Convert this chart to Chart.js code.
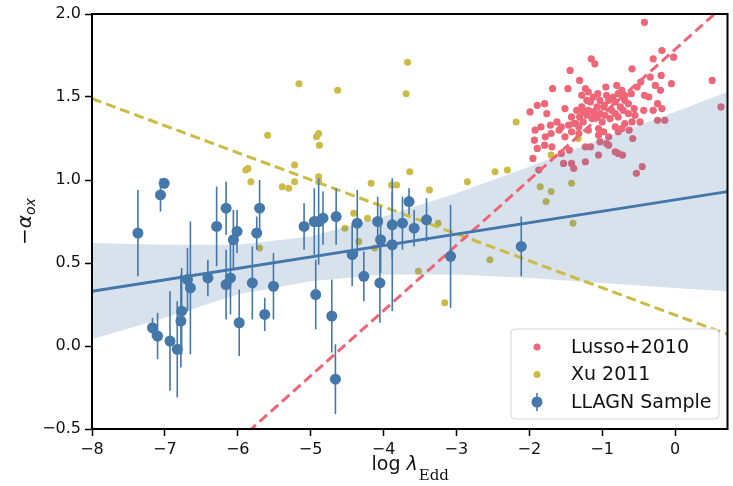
<!DOCTYPE html>
<html>
<head>
<meta charset="utf-8">
<script src="https://cdn.jsdelivr.net/npm/chart.js@4.4.1/dist/chart.umd.min.js"></script>
<style>
  html, body { margin: 0; padding: 0; background: #fff; }
  #wrap { width: 733px; height: 486px; }
</style>
</head>
<body>
<div id="wrap"><canvas id="aoxChart" width="733" height="486"></canvas></div>
<script>
// LLAGN sample: log lambda_Edd, -alpha_ox and 1-sigma errors
const llagnX = [-7.37, -7.01, -7.06, -6.29, -6.16, -6.01, -6.06, -5.70, -5.74, -6.69,
                -6.65, -6.41, -6.16, -6.10, -5.98, -5.80, -6.77, -6.78, -7.17, -7.10,
                -6.93, -6.83, -5.51, -5.63, -5.09, -4.95, -4.89, -4.83, -4.65, -4.93,
                -4.71, -4.66, -4.43, -4.36, -4.27, -4.08, -4.04, -4.05, -3.88, -3.88,
                -3.74, -3.65, -3.58, -3.41, -3.08, -2.11];
const llagnY = [0.68, 0.98, 0.91, 0.72, 0.83, 0.69, 0.64, 0.83, 0.68, 0.40,
                0.35, 0.41, 0.37, 0.41, 0.14, 0.38, 0.21, 0.15, 0.11, 0.06,
                0.03, -0.02, 0.36, 0.19, 0.72, 0.75, 0.75, 0.77, 0.78, 0.31,
                0.18, -0.20, 0.55, 0.74, 0.42, 0.75, 0.64, 0.38, 0.73, 0.61,
                0.74, 0.87, 0.71, 0.76, 0.54, 0.60];
const llagnErr = [0.26, 0.03, 0.10, 0.24, 0.16, 0.13, 0.18, 0.17, 0.10, 0.19,
                  0.40, 0.11, 0.21, 0.22, 0.20, 0.22, 0.26, 0.28, 0.06, 0.14,
                  0.30, 0.29, 0.20, 0.10, 0.14, 0.20, 0.26, 0.16, 0.17, 0.21,
                  0.22, 0.21, 0.19, 0.20, 0.15, 0.15, 0.20, 0.24, 0.20, 0.40,
                  0.16, 0.08, 0.11, 0.13, 0.31, 0.18];

// Xu 2011
const xuX = [-3.67, -3.69, -5.16, -4.63, -5.59, -4.92, -4.89, -4.88, -5.89, -5.86,
             -5.82, -5.22, -5.22, -5.39, -5.30, -4.89, -4.89, -3.64, -4.17, -3.89,
             -3.82, -3.37, -2.85, -3.25, -4.41, -4.22, -4.53, -4.34, -5.70, -4.12,
             -3.52, -3.16, -2.54, -2.47, -2.30, -2.18, -1.85, -1.70, -1.77, -1.42,
             -1.40, -1.70, -1.33];
const xuY = [1.71, 1.52, 1.58, 1.54, 1.27, 1.26, 1.28, 1.21, 1.06, 1.07,
             0.99, 1.09, 0.99, 0.96, 0.95, 1.02, 0.99, 1.05, 0.98, 0.97,
             0.97, 0.94, 0.99, 0.74, 0.80, 0.77, 0.71, 0.63, 0.59, 0.59,
             0.45, 0.26, 0.52, 1.05, 1.06, 1.35, 0.96, 0.93, 0.87, 0.98,
             0.74, 1.15, 1.25];

// Lusso+2010
const lussoX = [-0.42, -1.15, -1.10, -1.44, -0.59, -0.18, -0.02, -0.30, -1.31, -1.68,
                -1.47, -0.95, -1.23, -1.19, -1.06, -0.80, -0.73, -0.60, -0.47, -0.52,
                -0.34, -0.19, -0.05, -0.27, -0.20, -0.42, -0.36, 0.51, 0.63, -1.89,
                -1.79, -1.99, -1.76, -1.51, -1.28, -1.16, -1.07, -0.97, -0.91, -0.82,
                -0.75, -0.69, -0.56, -0.43, -0.30, -0.18, -0.24, -1.12, -1.03, -0.87,
                -1.21, -1.31, -1.42, -1.62, -1.71, -1.84, -1.92, -1.56, -1.46, -1.36,
                -1.26, -1.14, -1.00, -0.89, -0.78, -0.69, -0.59, -0.48, -0.24, -0.14,
                -1.70, -1.78, -1.93, -1.59, -1.51, -1.42, -1.32, -1.19, -1.05, -0.91,
                -0.78, -0.63, -0.58, -1.89, -1.79, -1.69, -1.95, -1.56, -1.45, -1.23,
                -1.16, -1.03, -0.94, -0.91, -0.82, -0.78, -0.72, -1.05, -1.23, -1.53,
                -1.42, -1.39, -0.53, -0.45, -1.87, -1.28, -1.21, -1.12, -1.03, -0.94,
                -0.85, -0.78, -0.69, -0.64, -0.71, -0.82, -0.96, -1.07, -1.19, -1.26,
                -1.35, -1.39, -1.05, -0.98, -0.82, -0.73, -0.98, -0.64, -0.55, -1.32];
const lussoY = [1.95, 1.73, 1.70, 1.66, 1.67, 1.78, 1.74, 1.73, 1.60, 1.55,
                1.55, 1.56, 1.55, 1.53, 1.52, 1.57, 1.54, 1.52, 1.59, 1.56,
                1.62, 1.63, 1.58, 1.57, 1.54, 1.51, 1.50, 1.60, 1.44, 1.45,
                1.46, 1.41, 1.40, 1.43, 1.44, 1.47, 1.44, 1.45, 1.48, 1.47,
                1.44, 1.48, 1.43, 1.42, 1.42, 1.43, 1.46, 1.41, 1.40, 1.42,
                1.39, 1.38, 1.38, 1.35, 1.33, 1.32, 1.30, 1.32, 1.33, 1.34,
                1.35, 1.37, 1.35, 1.37, 1.38, 1.34, 1.35, 1.35, 1.36, 1.36,
                1.28, 1.26, 1.24, 1.30, 1.26, 1.29, 1.28, 1.30, 1.31, 1.26,
                1.29, 1.30, 1.25, 1.19, 1.21, 1.20, 1.13, 1.16, 1.18, 1.20,
                1.20, 1.23, 1.22, 1.21, 1.17, 1.16, 1.15, 1.15, 1.11, 1.10,
                1.10, 1.07, 1.04, 1.08, 1.06, 1.51, 1.48, 1.50, 1.48, 1.51,
                1.50, 1.52, 1.51, 1.46, 1.42, 1.40, 1.39, 1.38, 1.42, 1.41,
                1.42, 1.34, 1.27, 1.29, 1.32, 1.31, 1.44, 1.40, 1.39, 1.32];

// fitted relations (end points at the x-axis limits)
const fitX = [-8, 0.72];
const llagnFitY = [0.33, 0.93];
const lussoFitY = [-1.36, 2.07];
const xuFitY = [1.49, 0.07];

// confidence band of the LLAGN fit
const bandX = [-8, -7, -6, -5, -4, -3, -2, -1, 0, 0.72];
const bandLow = [0.04, 0.17, 0.31, 0.39, 0.43, 0.43, 0.41, 0.38, 0.35, 0.33];
const bandHigh = [0.62, 0.61, 0.61, 0.66, 0.78, 0.92, 1.08, 1.25, 1.41, 1.53];

const xTicks = [-8, -7, -6, -5, -4, -3, -2, -1, 0];
const yTicks = [-0.5, 0, 0.5, 1, 1.5, 2];

const BLUE = '#4477AA';
const RED = '#EE6677';
const YELLOW = '#CCBB44';

const pairs = (xs, ys) => xs.map((x, i) => ({ x: x, y: ys[i] }));
const minus = s => s.replace('-', '\u2212');

Chart.defaults.font.family = '"DejaVu Sans"';
Chart.defaults.color = '#111';

// vertical error bars under the LLAGN markers
const errorBars = {
  id: 'errorBars',
  beforeDatasetDraw(chart, args) {
    if (args.index !== 0) return;
    const ctx = chart.ctx;
    const xs = chart.scales.x, ys = chart.scales.y;
    ctx.save();
    ctx.strokeStyle = BLUE;
    ctx.lineWidth = 1.6;
    llagnX.forEach((v, i) => {
      const px = xs.getPixelForValue(v);
      ctx.beginPath();
      ctx.moveTo(px, ys.getPixelForValue(llagnY[i] - llagnErr[i]));
      ctx.lineTo(px, ys.getPixelForValue(llagnY[i] + llagnErr[i]));
      ctx.stroke();
    });
    ctx.restore();
  }
};

// frame, axis titles and legend box
const decorations = {
  id: 'decorations',
  afterDraw(chart) {
    const ctx = chart.ctx;
    const a = chart.chartArea;
    ctx.save();
    ctx.strokeStyle = '#000';
    ctx.lineWidth = 2;
    ctx.strokeRect(a.left, a.top, a.right - a.left, a.bottom - a.top);

    // x title: log λ_Edd
    ctx.fillStyle = '#111';
    ctx.textBaseline = 'alphabetic';
    ctx.textAlign = 'left';
    const f1 = '19px "DejaVu Sans"', f2 = 'italic 19px "DejaVu Sans"', f3 = '15px "DejaVu Serif"';
    ctx.font = f1; const w1 = ctx.measureText('log ').width;
    ctx.font = f2; const w2 = ctx.measureText('\u03bb').width;
    ctx.font = f3; const w3 = ctx.measureText('Edd').width;
    let x0 = (a.left + a.right) / 2 - (w1 + w2 + w3) / 2;
    ctx.font = f1; ctx.fillText('log ', x0, 470);
    ctx.font = f2; ctx.fillText('\u03bb', x0 + w1, 470);
    ctx.font = f3; ctx.fillText('Edd', x0 + w1 + w2 + 1, 480);

    // y title: −α_ox
    ctx.save();
    ctx.translate(31, (a.top + a.bottom) / 2);
    ctx.rotate(-Math.PI / 2);
    const g1 = '20px "DejaVu Sans"', g2 = 'italic 20px "DejaVu Sans"', g3 = 'italic 14px "DejaVu Sans"';
    ctx.font = g1; const v1 = ctx.measureText('\u2212').width;
    ctx.font = g2; const v2 = ctx.measureText('\u03b1').width;
    ctx.font = g3; const v3 = ctx.measureText('ox').width;
    let s0 = -(v1 + v2 + v3) / 2;
    ctx.font = g1; ctx.fillText('\u2212', s0, 0);
    ctx.font = g2; ctx.fillText('\u03b1', s0 + v1, 0);
    ctx.font = g3; ctx.fillText('ox', s0 + v1 + v2, 4);
    ctx.restore();

    // legend
    const lx = 511, ly = 329, lw = 208, lh = 90;
    ctx.beginPath();
    ctx.roundRect(lx, ly, lw, lh, 4);
    ctx.fillStyle = 'rgba(255,255,255,0.8)';
    ctx.fill();
    ctx.strokeStyle = '#d6d6d6';
    ctx.lineWidth = 1;
    ctx.stroke();

    const rows = [
      { label: 'Lusso+2010', color: RED, r: 3.5, bar: false },
      { label: 'Xu 2011', color: YELLOW, r: 3.5, bar: false },
      { label: 'LLAGN Sample', color: BLUE, r: 5.5, bar: true }
    ];
    ctx.font = '19px "DejaVu Sans"';
    ctx.textBaseline = 'middle';
    rows.forEach((row, i) => {
      const cy = 347 + i * 27.5;
      if (row.bar) {
        ctx.strokeStyle = row.color;
        ctx.lineWidth = 1.6;
        ctx.beginPath();
        ctx.moveTo(537, cy - 9);
        ctx.lineTo(537, cy + 9);
        ctx.stroke();
      }
      ctx.fillStyle = row.color;
      ctx.beginPath();
      ctx.arc(537, cy, row.r, 0, Math.PI * 2);
      ctx.fill();
      ctx.fillStyle = '#111';
      ctx.fillText(row.label, 571, cy + 1);
    });
    ctx.restore();
  }
};

new Chart(document.getElementById('aoxChart'), {
  type: 'scatter',
  data: {
    datasets: [
      {
        label: 'LLAGN Sample',
        data: pairs(llagnX, llagnY),
        backgroundColor: BLUE,
        borderWidth: 0,
        pointRadius: 5.5,
        order: 0
      },
      {
        type: 'line',
        data: pairs(fitX, llagnFitY),
        borderColor: BLUE,
        borderWidth: 3,
        pointRadius: 0,
        fill: false,
        order: 1
      },
      {
        type: 'line',
        data: pairs(fitX, lussoFitY),
        borderColor: RED,
        borderWidth: 3,
        borderDash: [10, 5],
        pointRadius: 0,
        fill: false,
        order: 1
      },
      {
        type: 'line',
        data: pairs(fitX, xuFitY),
        borderColor: YELLOW,
        borderWidth: 3,
        borderDash: [10, 5],
        pointRadius: 0,
        fill: false,
        order: 1
      },
      {
        type: 'line',
        data: pairs(bandX, bandLow),
        borderWidth: 0,
        borderColor: 'rgba(0,0,0,0)',
        pointRadius: 0,
        fill: false,
        order: 2
      },
      {
        type: 'line',
        data: pairs(bandX, bandHigh),
        borderWidth: 0,
        borderColor: 'rgba(0,0,0,0)',
        backgroundColor: 'rgba(68,119,170,0.21)',
        pointRadius: 0,
        fill: '-1',
        order: 2
      },
      {
        label: 'Xu 2011',
        data: pairs(xuX, xuY),
        backgroundColor: YELLOW,
        borderWidth: 0,
        pointRadius: 3.5,
        order: 3
      },
      {
        label: 'Lusso+2010',
        data: pairs(lussoX, lussoY),
        backgroundColor: RED,
        borderWidth: 0,
        pointRadius: 3.6,
        order: 4
      }
    ]
  },
  options: {
    responsive: false,
    animation: false,
    events: [],
    layout: { padding: { left: 0, right: 4, top: 14, bottom: 0 } },
    plugins: {
      legend: { display: false },
      tooltip: { enabled: false }
    },
    scales: {
      x: {
        type: 'linear',
        min: -8,
        max: 0.72,
        afterBuildTicks: s => { s.ticks = xTicks.map(v => ({ value: v })); },
        afterFit: s => { s.height = 57; },
        ticks: {
          font: { size: 16 },
          color: '#111',
          padding: 4,
          maxRotation: 0,
          callback: v => minus(String(v))
        },
        grid: { drawOnChartArea: false, drawTicks: true, tickLength: 7, tickWidth: 1.5, tickColor: '#000' },
        border: { display: true, color: '#000', width: 2 }
      },
      y: {
        type: 'linear',
        min: -0.5,
        max: 2.0,
        afterBuildTicks: s => { s.ticks = yTicks.map(v => ({ value: v })); },
        afterFit: s => { s.width = 92; },
        ticks: {
          font: { size: 16 },
          color: '#111',
          padding: 4,
          callback: v => minus(v.toFixed(1))
        },
        grid: { drawOnChartArea: false, drawTicks: true, tickLength: 7, tickWidth: 1.5, tickColor: '#000' },
        border: { display: true, color: '#000', width: 2 }
      }
    }
  },
  plugins: [errorBars, decorations]
});
</script>
</body>
</html>
